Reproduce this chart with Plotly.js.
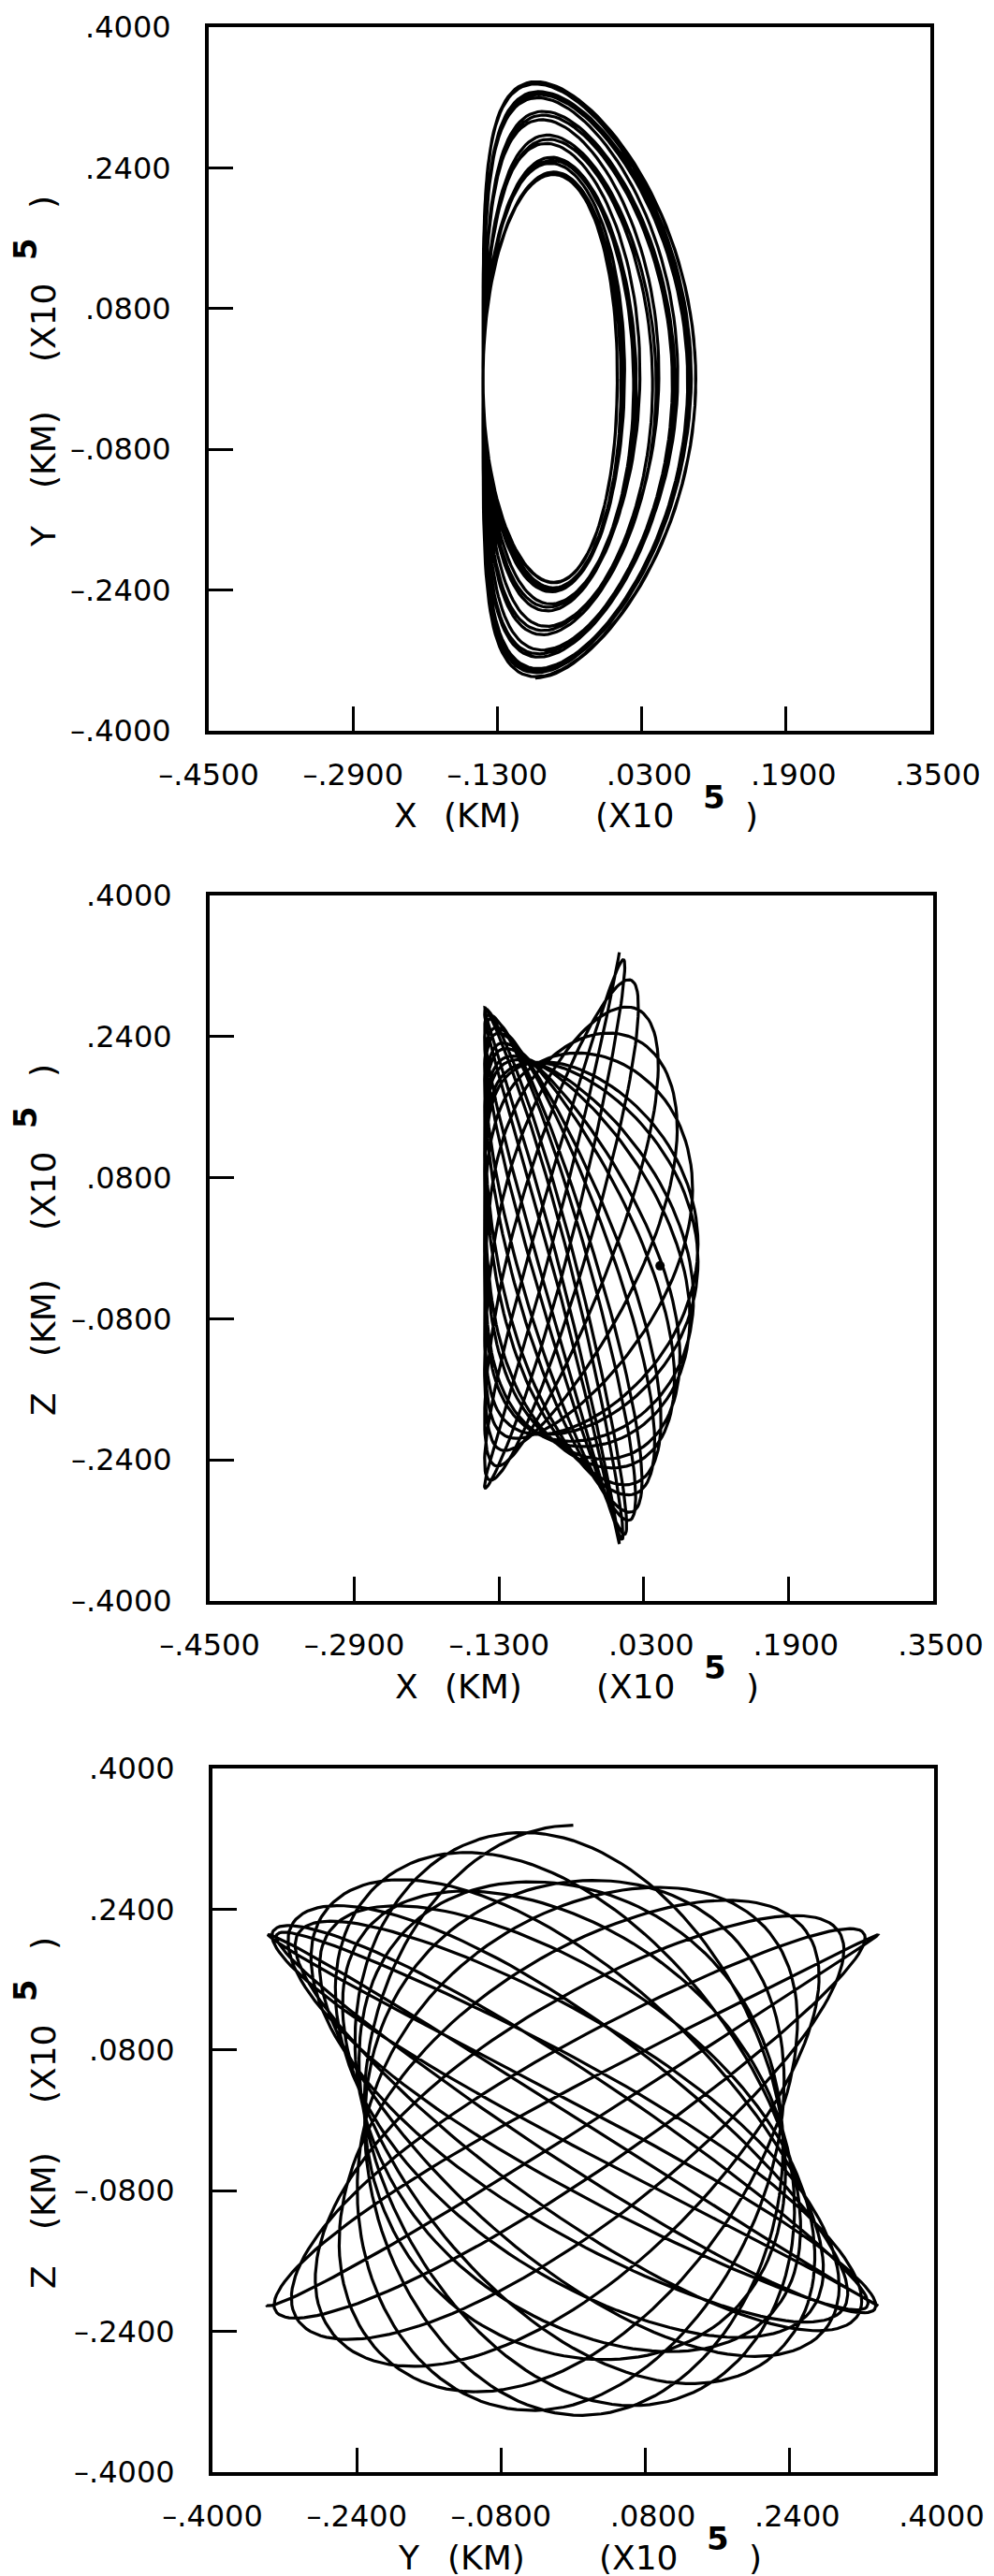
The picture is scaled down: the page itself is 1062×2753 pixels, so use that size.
<!DOCTYPE html>
<html>
<head>
<meta charset="utf-8">
<script src="https://cdn.plot.ly/plotly-3.0.1.min.js"></script>
<style>
html,body{margin:0;padding:0;background:#fff;}
#chart{width:1062px;height:2753px;}
</style>
</head>
<body>
<div id="chart"></div>
<script>
// ---- Tick values and labels (units of 10^5 km) ----
const xTickVals = [-0.45, -0.29, -0.13, 0.03, 0.19, 0.35];
const xTickText = ["\u2013.4500", "\u2013.2900", "\u2013.1300", "\u2002.0300", "\u2002.1900", "\u2002.3500"];
const vTickVals = [-0.40, -0.24, -0.08, 0.08, 0.24, 0.40];
const vTickText = ["\u2013.4000", "\u2013.2400", "\u2013.0800", "\u2002.0800", "\u2002.2400", "\u2002.4000"];

// ---- Trajectory, per revolution, as read from the three projections ----
// revolution count at each knot
const knotRev = [0, 1, 2, 3, 4, 5, 6, 7, 8, 9, 10, 11, 12, 13, 14, 15, 16, 17, 18, 18.25];
// phase of the out-of-plane (Z) motion relative to the in-plane motion, degrees
const knotPhase = [-90, -104.8, -119.6, -134.4, -149.2, -164.0, -178.8, -193.6, -208.4, -223.2, -237.9, -252.7, -267.5, -282.3, -297.1, -311.9, -326.7, -341.5, -356.3, -360];
// Y amplitude of each loop (X-Y and Y-Z panels)
const knotAmpY = [0.230, 0.237, 0.257, 0.284, 0.311, 0.332, 0.340, 0.334, 0.315, 0.288, 0.261, 0.240, 0.230, 0.235, 0.253, 0.279, 0.307, 0.329, 0.340, 0.340];
// Z amplitude of each loop (X-Z and Y-Z panels)
const knotAmpZ = [0.305, 0.299, 0.282, 0.258, 0.235, 0.217, 0.210, 0.215, 0.231, 0.254, 0.278, 0.297, 0.305, 0.301, 0.285, 0.263, 0.239, 0.220, 0.210, 0.210];
// rightmost X of each loop (X-Y panel)
const knotXRight = [0.003, 0.009, 0.024, 0.046, 0.067, 0.084, 0.090, 0.085, 0.070, 0.049, 0.028, 0.011, 0.003, 0.007, 0.021, 0.042, 0.064, 0.081, 0.090, 0.090];
// X at the top/bottom of each loop (X-Y panel)
const knotXTop = [-0.067, -0.068, -0.072, -0.077, -0.082, -0.086, -0.088, -0.087, -0.083, -0.078, -0.073, -0.069, -0.067, -0.068, -0.071, -0.076, -0.082, -0.086, -0.088, -0.088];
// common left edge of all loops (X-Y panel)
const xLeftEdge = -0.146;
// Z larger on the far (+X) side than the near side (X-Z panel)
const zSideRatio = 0.10;
// isolated dot in the X-Z panel
const dotX = [0.048];
const dotZ = [-0.020];

function knotValue(arr, r) {
  let i = 0;
  while (i < knotRev.length - 2 && r > knotRev[i + 1]) i++;
  const f = (r - knotRev[i]) / (knotRev[i + 1] - knotRev[i]);
  return arr[i] + (arr[i + 1] - arr[i]) * f;
}

const xs = [], ys = [], zs = [];
const stepsPerRev = 140;
const totalRev = knotRev[knotRev.length - 1];
const nSteps = Math.round(totalRev * stepsPerRev);
const D = Math.PI / 180;
for (let s = 0; s <= nSteps; s++) {
  const r = totalRev * s / nSteps;
  const th = (180 + 360 * r) * D;
  const ph = knotValue(knotPhase, r) * D;
  const ay = knotValue(knotAmpY, r);
  const az = knotValue(knotAmpZ, r);
  const xr = knotValue(knotXRight, r);
  const xt = knotValue(knotXTop, r);
  const mid = (xLeftEdge + xr) / 2;
  const a = (mid + xt) / 2, c = (mid - xt) / 2, b = (xr - xLeftEdge) / 2;
  xs.push(a - b * Math.cos(th) + c * Math.cos(2 * th));
  ys.push(ay * Math.sin(th));
  zs.push(az * Math.sin(th + ph) * (1 - zSideRatio * Math.cos(th)));
}

// ---- Layout geometry (pixels) ----
const W = 1062, H = 2753;
const boxes = [
  {l: 223, r: 994, t: 29, b: 781},
  {l: 224, r: 997, t: 957, b: 1711},
  {l: 227, r: 998, t: 1890, b: 2642}
];
const px = v => v / W;
const py = v => 1 - v / H;

const FONT = "DejaVu Sans";
function axisBase(box, isX, range, vals, text) {
  return {
    domain: isX ? [px(box.l), px(box.r)] : [py(box.b), py(box.t)],
    range: range,
    tickmode: "array",
    tickvals: vals,
    ticktext: text,
    ticks: "inside",
    ticklen: 26,
    tickwidth: 3,
    tickcolor: "#000",
    showline: true,
    mirror: true,
    linewidth: 4,
    linecolor: "#000",
    showgrid: false,
    zeroline: false,
    ticklabelstandoff: isX ? 16 : 30,
    tickfont: {family: FONT, size: 32, color: "#000"},
    fixedrange: true
  };
}

const xLetters = ["X", "X", "Y"];
const yLetters = ["Y", "Z", "Z"];
const annotations = [];
function ann(x, y, text, angle, size) {
  annotations.push({
    xref: "paper", yref: "paper", x: px(x), y: py(y),
    xanchor: "center", yanchor: "middle", showarrow: false,
    text: text, textangle: angle || 0,
    font: {family: FONT, size: size || 36, color: "#000"}
  });
}
boxes.forEach((bx, i) => {
  // x title: X (KM) (X10 5 )
  const ty = bx.b + 91;
  ann(bx.l + 210, ty, xLetters[i]);
  ann(bx.l + 292, ty, "(KM)");
  ann(bx.l + 455, ty, "(X10");
  ann(bx.l + 540, bx.b + 71, "<b>5</b>", 0, 34);
  ann(bx.l + 580, ty, ")");
  // y title (rotated, reads bottom to top)
  const tx = 46;
  ann(tx, bx.t + 544, yLetters[i], -90);
  ann(tx, bx.t + 452, "(KM)", -90);
  ann(tx, bx.t + 316, "(X10", -90);
  ann(27, bx.t + 237, "<b>5</b>", -90, 34);
  ann(tx, bx.t + 187, ")", -90);
});

const lineStyle = {color: "#000", width: 3.2};
const data = [
  {x: xs, y: ys, xaxis: "x", yaxis: "y", type: "scatter", mode: "lines", line: lineStyle, hoverinfo: "skip"},
  {x: xs, y: zs, xaxis: "x2", yaxis: "y2", type: "scatter", mode: "lines", line: lineStyle, hoverinfo: "skip"},
  {x: ys, y: zs, xaxis: "x3", yaxis: "y3", type: "scatter", mode: "lines", line: lineStyle, hoverinfo: "skip"},
  {x: dotX, y: dotZ, xaxis: "x2", yaxis: "y2", type: "scatter", mode: "markers", marker: {color: "#000", size: 10}, hoverinfo: "skip"}
];

const layout = {
  width: W, height: H,
  margin: {l: 0, r: 0, t: 0, b: 0, pad: 0},
  paper_bgcolor: "#fff", plot_bgcolor: "#fff",
  showlegend: false,
  hovermode: false,
  font: {family: FONT, size: 32, color: "#000"},
  xaxis: Object.assign(axisBase(boxes[0], true, [-0.45, 0.35], xTickVals, xTickText), {anchor: "y"}),
  yaxis: Object.assign(axisBase(boxes[0], false, [-0.40, 0.40], vTickVals, vTickText), {anchor: "x"}),
  xaxis2: Object.assign(axisBase(boxes[1], true, [-0.45, 0.35], xTickVals, xTickText), {anchor: "y2"}),
  yaxis2: Object.assign(axisBase(boxes[1], false, [-0.40, 0.40], vTickVals, vTickText), {anchor: "x2"}),
  xaxis3: Object.assign(axisBase(boxes[2], true, [-0.40, 0.40], vTickVals, vTickText), {anchor: "y3"}),
  yaxis3: Object.assign(axisBase(boxes[2], false, [-0.40, 0.40], vTickVals, vTickText), {anchor: "x3"}),
  annotations: annotations
};

Plotly.newPlot("chart", data, layout, {staticPlot: true, displayModeBar: false});
</script>
</body>
</html>
